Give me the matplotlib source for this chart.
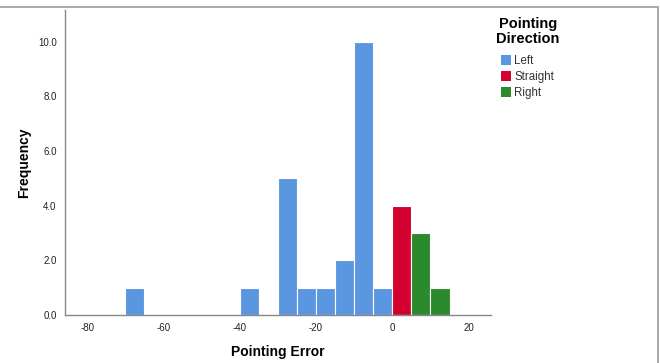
import numpy as np
import matplotlib
matplotlib.use("Agg")
import matplotlib.pyplot as plt
from matplotlib.patches import Patch, Rectangle

# histogram bins (left edges, width 5) and counts per pointing direction
left_bins = [-70, -40, -30, -25, -20, -15, -10, -5]
left_counts = [1, 1, 5, 1, 1, 2, 10, 1]
straight_bins = [0]
straight_counts = [4]
right_bins = [5, 10]
right_counts = [3, 1]

bin_width = 5
x_ticks = [-80, -60, -40, -20, 0, 20]
y_ticks = [0, 2, 4, 6, 8, 10]

colors = {"Left": "#5b96e0", "Straight": "#d4002f", "Right": "#2b8a2b"}

plt.rcParams['font.family'] = ['Liberation Sans', 'DejaVu Sans']

fig = plt.figure(figsize=(6.6, 3.63), dpi=100)
ax = fig.add_axes([0.0985, 0.132, 0.645, 0.840])

for name, bins, counts in [("Left", left_bins, left_counts),
                           ("Straight", straight_bins, straight_counts),
                           ("Right", right_bins, right_counts)]:
  ax.bar(bins, counts, width=bin_width, align="edge", color=colors[name],
         edgecolor="white", linewidth=0.8)

ax.set_xlim(-85.8, 25.8)
ax.set_ylim(0, 11.15)
ax.set_xticks(x_ticks)
ax.set_xticklabels([str(t) for t in x_ticks])
ax.set_yticks(y_ticks)
ax.set_yticklabels([f"{t:.1f}" for t in y_ticks])
ax.tick_params(length=0, labelsize=7, colors="#222222", pad=6)

for side in ["top", "right"]:
  ax.spines[side].set_visible(False)
for side in ["left", "bottom"]:
  ax.spines[side].set_color("#888888")
  ax.spines[side].set_linewidth(1.0)

ax.set_ylabel("Frequency", fontsize=10, fontweight="bold", labelpad=5)
ax.set_xlabel("Pointing Error", fontsize=10, fontweight="semibold", labelpad=8)

# legend title drawn separately so it can be centred above the entries
fig.text(528 / 660, 1 - 17 / 363, "Pointing\nDirection", ha="center", va="top",
         fontsize=10.5, fontweight="bold", linespacing=1.05)

handles = [Patch(facecolor=colors[k], edgecolor="none") for k in ["Left", "Straight", "Right"]]
leg = fig.legend(handles, ["Left", "Straight", "Right"],
                 loc="upper left", bbox_to_anchor=(501 / 660, 1 - 55 / 363), frameon=False,
                 fontsize=8.3, handlelength=0.87, handleheight=0.95,
                 handletextpad=0.3, labelspacing=0.35, borderaxespad=0, borderpad=0)
for t in leg.get_texts():
  t.set_color("#333333")

# outer frame of the output viewer
fig.patches.append(Rectangle((-0.01, -0.01), 0.9965 + 0.01, 0.981 + 0.01,
                             transform=fig.transFigure, fill=False,
                             edgecolor="#999999", linewidth=1.2))

fig.savefig("out.png", dpi=100)
